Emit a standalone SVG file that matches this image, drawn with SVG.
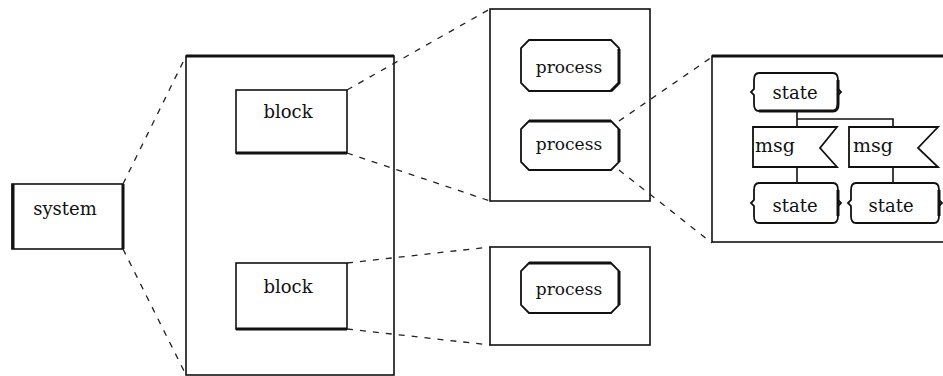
<svg xmlns="http://www.w3.org/2000/svg" width="943" height="376" viewBox="0 0 943 376">
<style>
.box{fill:#fff;stroke:#111;stroke-width:1.6}
.thick{stroke:#111;stroke-width:3;fill:none}
.shape{fill:#fff;stroke:#111;stroke-width:1.8;stroke-linejoin:miter}
.dash{stroke:#222;stroke-width:1.3;stroke-dasharray:6 7;fill:none}
.ln{stroke:#111;stroke-width:1.6;fill:none}
text{font-family:"DejaVu Serif","Liberation Serif",serif;font-size:18px;fill:#111}
.c{text-anchor:middle}
.p{font-size:17px}
.m{font-size:19px}
</style>
<rect width="943" height="376" fill="#fff"/>
<g id="system">
<rect class="box" x="12" y="184" width="111" height="65"/>
<path class="thick" d="M13,184V249M123,184V249"/>
<text class="c" x="65" y="215">system</text>
</g>
<g id="blocks-container">
<rect class="box" x="186" y="56" width="208" height="319"/>
<path class="thick" d="M186,56H394"/>
</g>
<g id="block1">
<rect class="box" x="236" y="90" width="111" height="63"/>
<path class="thick" d="M236,153H347"/>
<text class="c" x="288" y="118">block</text>
</g>
<g id="block2">
<rect class="box" x="236" y="263" width="111" height="66"/>
<path class="thick" d="M236,329H347"/>
<text class="c" x="288" y="293">block</text>
</g>
<g id="processes1">
<rect class="box" x="490" y="9" width="160" height="192"/>
</g>
<g id="process1">
<path class="shape" d="M529,40H611L619,48V83L611,91H529L521,83V48Z"/>
<path class="thick" d="M619,49V83L611,91"/>
<text class="c p" x="569" y="73">process</text>
</g>
<g id="process2">
<path class="shape" d="M529,121H611L619,129V162L611,170H529L521,162V129Z"/>
<path class="thick" d="M529,121H611M619,129V162"/>
<text class="c p" x="569" y="150">process</text>
</g>
<g id="processes2">
<rect class="box" x="490" y="247" width="160" height="98"/>
</g>
<g id="process3">
<path class="shape" d="M529,263H611L619,271V305L611,313H529L521,305V271Z"/>
<path class="thick" d="M529,263H611M619,271V305"/>
<text class="c p" x="569" y="295">process</text>
</g>
<g id="states-container">
<rect class="box" x="712" y="56" width="240" height="186"/>
<path class="thick" d="M712,56H943"/>
</g>
<g id="connectors">
<path class="dash" d="M123,184L186,56"/>
<path class="dash" d="M123,249L186,375"/>
<path class="dash" d="M347,90L490,9"/>
<path class="dash" d="M347,153L490,201"/>
<path class="dash" d="M347,263L490,247"/>
<path class="dash" d="M347,329L490,345"/>
<path class="dash" d="M619,121L712,57"/>
<path class="dash" d="M619,170L712,243"/>
<path class="ln" d="M797,111V127M797,119H893V127M797,167V183M893,167V183"/>
</g>
<g id="state-top">
<path class="shape" d="M759,73H833Q838,73 838,80V89L841,92L838,95V104Q838,111 833,111H759Q754,111 754,104V95L751,92L754,89V80Q754,73 759,73Z"/>
<path class="thick" d="M838,80V104Q838,111 833,111H759"/>
<text class="c" x="795" y="99">state</text>
</g>
<g id="msg1">
<path class="shape" d="M753,127H837L820,148L837,167H753Z"/>
<text class="m" x="755" y="152">msg</text>
</g>
<g id="msg2">
<path class="shape" d="M849,127H938L918,148L938,167H849Z"/>
<text class="m" x="853" y="152">msg</text>
</g>
<g id="state-left">
<path class="shape" d="M759,183H833Q838,183 838,190V200L841,203L838,206V216Q838,223 833,223H759Q754,223 754,216V206L751,203L754,200V190Q754,183 759,183Z"/>
<path class="thick" d="M838,190V216"/>
<text class="c" x="795" y="212">state</text>
</g>
<g id="state-right">
<path class="shape" d="M856,183H934Q939,183 939,190V200L942,203L939,206V216Q939,223 934,223H856Q851,223 851,216V206L848,203L851,200V190Q851,183 856,183Z"/>
<path class="thick" d="M939,190V216"/>
<text class="c" x="891" y="212">state</text>
</g>
</svg>
